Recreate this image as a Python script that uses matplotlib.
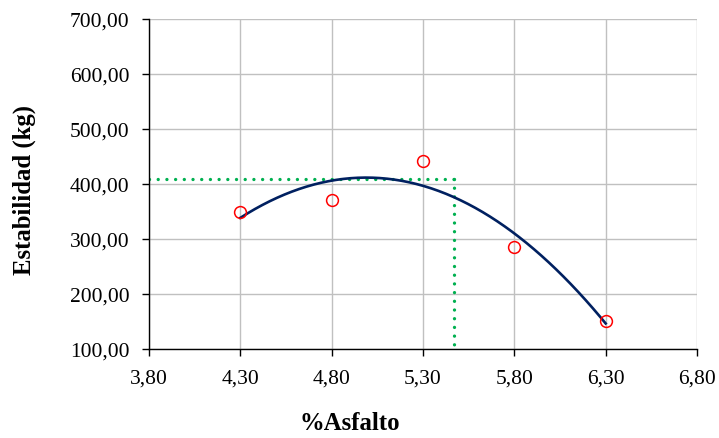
import numpy as np
import matplotlib.pyplot as plt
from matplotlib.ticker import FuncFormatter

# datos del ensayo
asfalto = [4.30, 4.80, 5.30, 5.80, 6.30]
estabilidad = [348.5, 371.0, 442.0, 285.0, 151.5]

# optimo (lineas guia)
x_opt = 5.47
y_opt = 410.0

x_ticks = [3.80, 4.30, 4.80, 5.30, 5.80, 6.30, 6.80]
y_ticks = [100, 200, 300, 400, 500, 600, 700]

plt.rcParams['font.family'] = ['Liberation Serif', 'DejaVu Serif']

fig = plt.figure(figsize=(7.19, 4.39), dpi=100)
ax = fig.add_axes([0.2072, 0.2027, 0.7622, 0.7517])

# linea de tendencia polinomica (grado 2), como en Excel
coef = np.polyfit(asfalto, estabilidad, 2)
xs = np.linspace(min(asfalto), max(asfalto), 200)
ax.plot(xs, np.polyval(coef, xs), color='#002060', lw=1.9, zorder=3)

ax.plot(asfalto, estabilidad, linestyle='none', marker='o', ms=8.5,
        mfc='none', mec='#FF0000', mew=1.1, zorder=4)

ax.plot([x_ticks[0], x_opt], [y_opt, y_opt], color='#00B050', lw=2.4,
        linestyle=(0, (0.01, 2.6)), dash_capstyle='round', zorder=2)
ax.plot([x_opt, x_opt], [y_opt, y_ticks[0]], color='#00B050', lw=2.4,
        linestyle=(0, (0.01, 2.6)), dash_capstyle='round', zorder=2)

ax.set_xlim(x_ticks[0], x_ticks[-1])
ax.set_ylim(y_ticks[0], y_ticks[-1])
ax.set_xticks(x_ticks)
ax.set_yticks(y_ticks)
fmt = FuncFormatter(lambda v, p: f"{v:.2f}".replace('.', ','))
ax.xaxis.set_major_formatter(fmt)
ax.yaxis.set_major_formatter(fmt)

ax.grid(True, color='#C0C0C0', lw=1)
ax.set_axisbelow(True)
for s in ['top', 'right']:
    ax.spines[s].set_visible(False)
for s in ['left', 'bottom']:
    ax.spines[s].set_color('black')
    ax.spines[s].set_linewidth(1)
ax.tick_params(direction='out', length=5, width=1, labelsize=15.5)
ax.tick_params(axis='x', pad=9)
ax.tick_params(axis='y', pad=9)

fig.text(350 / 719, 1 - 424 / 439, '%Asfalto', fontsize=17.8,
         fontweight='bold', ha='center', va='center')
fig.text(24 / 719, 1 - 190 / 439, 'Estabilidad (kg)', fontsize=17.8,
         fontweight='bold', ha='center', va='center', rotation=90)

fig.savefig('out.png', dpi=100)
